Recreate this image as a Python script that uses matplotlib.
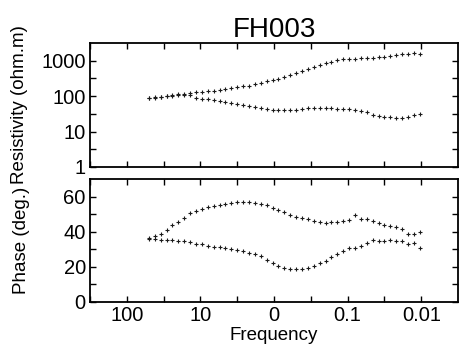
import numpy as np
import matplotlib
matplotlib.use("Agg")
from matplotlib import pyplot as plt
from matplotlib.ticker import FixedLocator, NullFormatter

plt.rcParams['font.family'] = ['Liberation Sans', 'DejaVu Sans']

# log10 of frequency (Hz) for each sounding
log_freq = [1.70, 1.62, 1.54, 1.46, 1.38, 1.30, 1.22, 1.14, 1.06, 0.98,
            0.90, 0.82, 0.74, 0.66, 0.58, 0.50, 0.42, 0.34, 0.26, 0.18,
            0.10, 0.02, -0.06, -0.14, -0.22, -0.30, -0.38, -0.46, -0.54, -0.62,
            -0.70, -0.78, -0.86, -0.94, -1.02, -1.10, -1.18, -1.26, -1.34, -1.42,
            -1.50, -1.58, -1.66, -1.74, -1.82, -1.90, -1.98]

# log10 of apparent resistivity
log_rho_xy = [1.96, 1.97, 1.99, 2.01, 2.03, 2.05, 2.07, 2.09, 2.12, 2.13,
              2.15, 2.16, 2.17, 2.19, 2.22, 2.26, 2.28, 2.30, 2.34, 2.38,
              2.42, 2.45, 2.48, 2.54, 2.60, 2.66, 2.71, 2.76, 2.82, 2.88,
              2.93, 2.97, 3.01, 3.04, 3.05, 3.06, 3.07, 3.08, 3.08, 3.10,
              3.12, 3.14, 3.16, 3.18, 3.20, 3.23, 3.19]
log_rho_yx = [1.94, 1.96, 1.98, 2.00, 2.01, 2.03, 2.04, 2.02, 1.96, 1.93,
              1.91, 1.89, 1.86, 1.84, 1.82, 1.79, 1.76, 1.73, 1.70, 1.67,
              1.65, 1.62, 1.61, 1.61, 1.61, 1.62, 1.64, 1.66, 1.67, 1.66,
              1.66, 1.66, 1.65, 1.64, 1.63, 1.61, 1.58, 1.55, 1.48, 1.44,
              1.42, 1.40, 1.39, 1.38, 1.42, 1.47, 1.51]

# phase in degrees
phase_xy = [36.0, 37.5, 39.0, 41.2, 43.8, 45.8, 48.0, 50.5, 52.0, 53.0,
            54.0, 54.8, 55.3, 55.8, 56.3, 56.8, 57.0, 57.0, 56.6, 56.0,
            55.0, 53.8, 52.5, 51.0, 49.5, 48.2, 47.6, 47.2, 46.3, 45.3,
            45.0, 45.6, 45.5, 46.4, 47.0, 49.5, 47.5, 47.2, 46.2, 44.8,
            44.0, 43.5, 42.8, 41.5, 38.8, 39.0, 39.8]
phase_yx = [36.2, 35.8, 35.6, 35.5, 35.3, 35.0, 34.6, 34.3, 33.2, 32.8,
            32.0, 31.6, 31.2, 30.7, 30.2, 29.7, 29.2, 28.2, 27.2, 26.0,
            24.2, 22.5, 20.5, 19.2, 18.8, 18.6, 18.8, 19.5, 20.5, 22.0,
            23.5, 25.5, 27.5, 29.0, 30.5, 31.0, 31.8, 33.5, 35.5, 34.8,
            34.5, 35.2, 35.0, 34.5, 33.0, 33.8, 30.5]

freq_ticks = [100, 10, 1, 0.1, 0.01]
freq_labels = ['100', '10', '0', '0.1', '0.01']
rho_ticks = [1, 10, 100, 1000]
phase_ticks = [0, 20, 40, 60]

freq = 10 ** np.array(log_freq)

fig = plt.figure(figsize=(4.59, 3.53), dpi=100)
ax1 = fig.add_axes([0.196, 0.527, 0.802, 0.351])
ax2 = fig.add_axes([0.196, 0.1445, 0.802, 0.348])

mk = dict(ls='none', marker='+', ms=3.2, mew=0.8, color='#1a1a1a')
ax1.plot(freq, 10 ** np.array(log_rho_xy), **mk)
ax1.plot(freq, 10 ** np.array(log_rho_yx), **mk)
ax2.plot(freq, phase_xy, **mk)
ax2.plot(freq, phase_yx, **mk)

for ax in (ax1, ax2):
    ax.set_xscale('log')
    ax.set_xlim(10 ** 2.5, 10 ** -2.5)
    ax.xaxis.set_major_locator(FixedLocator(freq_ticks))
    ax.xaxis.set_minor_locator(FixedLocator([10 ** 2.5, 10 ** 1.5, 10 ** 0.5,
                                             10 ** -0.5, 10 ** -1.5]))
    ax.xaxis.set_minor_formatter(NullFormatter())
    ax.tick_params(which='both', direction='in', top=True, right=True,
                   length=4, width=1.0, labelsize=14.5, pad=3)
    for s in ax.spines.values():
        s.set_linewidth(1.3)

ax1.set_yscale('log')
ax1.set_ylim(1, 10 ** 3.5)
ax1.yaxis.set_major_locator(FixedLocator(rho_ticks))
ax1.yaxis.set_minor_locator(FixedLocator([10 ** 0.5, 10 ** 1.5, 10 ** 2.5]))
ax1.yaxis.set_minor_formatter(NullFormatter())
ax1.set_yticklabels([str(t) for t in rho_ticks])
ax1.set_xticklabels([])
ax1.set_ylabel('Resistivity (ohm.m)', fontsize=13.5)
ax1.yaxis.set_label_coords(-0.168, 0.5)
ax1.set_title('FH003', fontsize=20, pad=2)

ax2.set_ylim(0, 70)
ax2.yaxis.set_major_locator(FixedLocator(phase_ticks))
ax2.yaxis.set_minor_locator(FixedLocator([10, 30, 50]))
ax2.set_xticklabels(freq_labels)
ax2.set_ylabel('Phase (deg.)', fontsize=13.5)
ax2.yaxis.set_label_coords(-0.163, 0.5)
ax2.set_xlabel('Frequency', fontsize=13.5, labelpad=1)

fig.savefig('out.png', dpi=100)
